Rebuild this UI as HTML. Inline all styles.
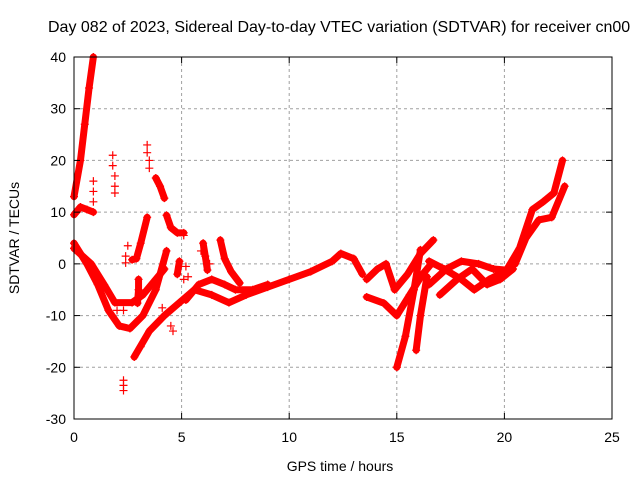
<!DOCTYPE html>
<html><head><meta charset="utf-8"><style>
body{margin:0;background:#fff;}
svg{display:block;font-family:"Liberation Sans",sans-serif;}
</style></head><body>
<svg id="chart" width="640" height="480">
<text x="48" y="32" font-size="16" text-anchor="start">Day 082 of 2023, Sidereal Day-to-day VTEC variation (SDTVAR) for receiver cn00</text>
<text x="340" y="471" font-size="14" text-anchor="middle">GPS time / hours</text>
<text transform="translate(19,238) rotate(-90)" font-size="14" text-anchor="middle">SDTVAR / TECUs</text>
<g id="grid"></g><g id="marks"></g><g id="axes"></g>
</svg>
<script>
const xTicks=[0,5,10,15,20,25];
const yTicks=[-30,-20,-10,0,10,20,30,40];
const seriesRise=[[0,13],[0.3,20],[0.5,27],[0.7,34],[0.9,40]];
const seriesShort=[[0,9.5],[0.3,11],[0.6,10.5],[0.9,10]];
const seriesDip=[[0,4],[0.6,0],[1.1,-4],[1.6,-9],[2.1,-12],[2.6,-12.5],[3.2,-10],[3.8,-5],[4.3,2.5]];
const seriesDip2=[[0,3],[0.8,0],[1.4,-4],[1.9,-7.5],[2.7,-7.5],[3.2,-6],[3.8,-3],[4.2,-1]];
const seriesMain=[[2.8,-18],[3.5,-13],[4.2,-10],[4.9,-7.5],[5.6,-5],[6.4,-6],[7.2,-7.5],[8,-6],[9,-4.5],[10,-3],[11,-1.5],[12,0.5],[12.4,2],[13,1],[13.4,-2]];
const seriesLoop=[[5.2,-7],[5.8,-4],[6.4,-3],[7,-4],[7.5,-5],[8.3,-5],[9,-4]];
const seriesUpper=[[13.6,-3],[14.1,-1],[14.5,0],[14.9,-5],[15.5,-2],[16.1,2],[16.7,4.6]];
const seriesLower=[[13.6,-6.4],[14.4,-7.6],[15,-10],[15.6,-6],[16.2,-2],[16.6,0]];
const seriesSteep1=[[15,-20],[15.4,-14],[15.8,-5],[16.1,2.7]];
const seriesSteep2=[[15.9,-16.7],[16.1,-10],[16.4,-2.5]];
const seriesCross1=[[16.5,0.5],[17.2,-1],[18,-3],[18.6,-5],[19.3,-3],[20,-1.5]];
const seriesCross2=[[16.5,-4],[17.3,-1],[18,0.5],[18.8,0],[19.5,-1],[20.1,-1.2]];
const seriesCross3=[[17,-6],[17.8,-3],[18.5,-1],[19.2,-4],[19.8,-3],[20.4,-1]];
const seriesEnd=[[20.1,-1.2],[20.7,3],[21.3,10.5],[21.8,12],[22.3,13.7],[22.7,20]];
const seriesEnd2=[[20.5,0],[21,5],[21.6,8.5],[22.2,9],[22.8,15]];
const seriesRise2=[[2.7,0.8],[2.9,1],[3.1,4],[3.4,9]];
const seriesSeg1=[[3.8,16.6],[4.0,15],[4.2,12.7]];
const seriesSeg2=[[4.3,9.4],[4.5,7],[4.8,6],[5.1,6]];
const seriesSeg3=[[6.8,4.6],[7.0,1],[7.3,-1.5],[7.7,-3.7]];
const seriesSeg4=[[6.0,4],[6.1,1.5],[6.2,-1.2]];
const seriesSeg5=[[4.9,0.5],[4.8,-2]];
const seriesSeg6=[[3.0,-3],[3.0,-5],[2.95,-7.6]];
const scatterPts=[[1.8,21],[1.8,19],[1.9,17],[1.9,15],[1.9,13.7],[3.4,23],[3.4,21.5],[3.5,20],[3.5,18.5],[0.9,16],[0.9,14],[0.9,12],[2.3,-22.5],[2.3,-23.5],[2.3,-24.5],[2.5,3.5],[2.4,1.5],[2.4,0.2],[2.3,-9],[2.0,-9],[3.1,-16],[4.5,-12],[4.6,-13],[4.1,-8.5],[5.1,5.5],[5.2,-0.5],[5.1,-3],[5.3,-2.5],[5.9,2.5],[6.3,0]];
const allSeries=[seriesRise,seriesShort,seriesDip,seriesDip2,seriesMain,seriesLoop,seriesUpper,seriesLower,seriesSteep1,seriesSteep2,seriesCross1,seriesCross2,seriesCross3,seriesEnd,seriesEnd2,seriesRise2,seriesSeg1,seriesSeg2,seriesSeg3,seriesSeg4,seriesSeg5,seriesSeg6];
const L=74,R=612,T=57,B=419;
const X=h=>L+(h-0)/(25-0)*(R-L);
const Y=v=>B-(v+30)/(70)*(B-T);
const NS="http://www.w3.org/2000/svg";
function mk(tag,attrs,parent){const e=document.createElementNS(NS,tag);for(const k in attrs)e.setAttribute(k,attrs[k]);parent.appendChild(e);return e;}
const grid=document.getElementById('grid'),marks=document.getElementById('marks'),axes=document.getElementById('axes');
xTicks.forEach(t=>{
 if(t>0&&t<25){const g=mk('line',{x1:X(t),x2:X(t),y1:T,y2:B,stroke:'#a0a0a0','stroke-dasharray':'3,3'},grid);
 
 }
 mk('line',{x1:X(t),x2:X(t),y1:B,y2:B-6,stroke:'#000'},axes);
 mk('line',{x1:X(t),x2:X(t),y1:T,y2:T+6,stroke:'#000'},axes);
 const tx=mk('text',{x:X(t),y:B+23,'font-size':14,'text-anchor':'middle'},axes);tx.textContent=t;
 
 
});
yTicks.forEach(t=>{
 if(t>-30&&t<40){const g=mk('line',{x1:L,x2:R,y1:Y(t),y2:Y(t),stroke:'#a0a0a0','stroke-dasharray':'3,3'},grid);
 
 }
 mk('line',{x1:L,x2:L+6,y1:Y(t),y2:Y(t),stroke:'#000'},axes);
 mk('line',{x1:R,x2:R-6,y1:Y(t),y2:Y(t),stroke:'#000'},axes);
 const ty=mk('text',{x:L-8,y:Y(t)+5,'font-size':14,'text-anchor':'end'},axes);ty.textContent=t;
 
 
});
const fr=mk('rect',{x:L,y:T,width:R-L,height:B-T,fill:'none',stroke:'#000'},axes);


function plus(h,v){const p=mk('path',{d:`M${X(h)-4},${Y(v)}h8M${X(h)},${Y(v)-4}v8`,stroke:'#f00','stroke-width':1.2,fill:'none'},marks);
 
 }
allSeries.forEach(s=>{
 const pl=mk('polyline',{points:s.map(p=>X(p[0])+','+Y(p[1])).join(' '),fill:'none',stroke:'#f00','stroke-width':7,'stroke-linejoin':'round','stroke-linecap':'round'},marks);
 
 
 s.forEach(p=>plus(p[0],p[1]));
});
scatterPts.forEach(p=>plus(p[0],p[1]));
</script>
</body></html>
